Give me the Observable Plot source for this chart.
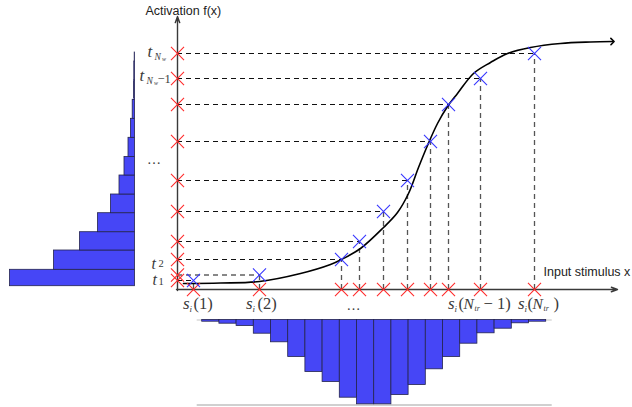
<!DOCTYPE html>
<html>
<head>
<meta charset="utf-8">
<script src="https://cdn.jsdelivr.net/npm/d3@7"></script>
<script src="https://cdn.jsdelivr.net/npm/@observablehq/plot@0.6"></script>
<style>
  html, body { margin: 0; padding: 0; background: #fff; }
  #chart svg { display: block; }
</style>
</head>
<body>
<div id="chart"></div>
<script>
// ---- DATA ----
// stimulus samples s_i(k), k = 1..N_tr (x units: offset from the y axis)
const samples = [16, 82, 164, 182, 206, 230, 253, 271, 303, 357];
// activation thresholds t_k (y units: height above the x axis)
const thresholds = [9, 14.5, 30, 48, 78, 109, 148, 185, 211, 236];
// the activation curve f(x)
const curveX = [6, 43, 82, 123, 153, 164, 183, 206, 220, 231, 241, 250, 260, 270, 280, 296, 313, 330, 353, 383, 413, 435];
const curveY = [6, 6.5, 8, 16, 25, 30, 41, 62, 77, 96, 122, 144, 166, 183, 196, 216, 227, 236, 242, 246, 247.5, 248];
// histogram of activation levels (left), bin edges on the activation axis
const actEdges = [3.3, 19.7, 39, 57.3, 76.3, 95, 114, 132.5, 151.7, 170.7, 189.7, 209, 228, 237];
const actCounts = [125, 81, 55, 37, 24, 15.5, 10.5, 6.5, 4, 2.3, 1, 0.7, 0.3];
// histogram of stimulus values (bottom), bin edges on the stimulus axis
const stimEdges = [24.7, 41.9, 59.1, 76.3, 93.5, 110.7, 127.9, 145.1, 162.3, 179.5, 196.7, 213.9, 231.1, 248.3, 265.5, 282.7, 299.9, 317.1, 334.3, 351.5, 368.7];
const stimCounts = [1.7, 3.7, 6, 13.7, 22.3, 37, 52, 62, 77.7, 84.3, 84.3, 75, 65, 49.3, 37, 23.7, 13.3, 8.7, 3.3, 1.7];
// axis titles
const yTitle = "Activation f(x)";
const xTitle = "Input stimulus x";

// ---- derived tables ----
const pts = samples.map((s, i) => ({s, t: thresholds[i]}));
const curve = curveX.map((x, i) => ({x, y: curveY[i]}));
const actBins = actCounts.map((c, i) => ({lo: actEdges[i], hi: actEdges[i + 1], c}));
const stimBins = stimCounts.map((c, i) => ({lo: stimEdges[i], hi: stimEdges[i + 1], c}));

// layout constants
const leftHistBase = -42.5;   // right edge of left histogram
const bottomHistTop = -30.5;  // top edge of bottom histogram
const xAxisEnd = 440, yAxisEnd = 273;

const red = "#ff2b2b", blue = "#3636ff", barFill = "#4646f6", barStroke = "#24244e";
const mathFill = "#3a3a3a";

function piece(data, x, y, text, dx, dy, size, italic, anchor = "start") {
  return Plot.text(data, {
    x, y, text: () => text, dx, dy,
    fontSize: size, fontStyle: italic ? "italic" : "normal",
    fontFamily: "Liberation Serif, Times New Roman, serif",
    fill: mathFill, textAnchor: anchor, lineAnchor: "bottom"
  });
}
const lvl = k => [pts[k]];

const marks = [
  // left histogram (activation levels)
  Plot.rectX(actBins, {y1: "lo", y2: "hi", x1: d => leftHistBase - d.c, x2: () => leftHistBase,
    fill: barFill, stroke: barStroke, strokeWidth: 0.8}),
  // bottom histogram (stimulus values)
  Plot.ruleY([bottomHistTop], {x1: stimEdges[0] - 5, x2: stimEdges[stimEdges.length - 1] + 6, stroke: "#d8d8d8", strokeWidth: 1.5}),
  Plot.ruleY([bottomHistTop - d3.max(stimCounts) - 0.7], {x1: stimEdges[0] - 5, x2: stimEdges[stimEdges.length - 1] + 6, stroke: "#d0d0d0", strokeWidth: 2}),
  Plot.rectY(stimBins, {x1: "lo", x2: "hi", y1: () => bottomHistTop, y2: d => bottomHistTop - d.c,
    fill: barFill, stroke: barStroke, strokeWidth: 0.8}),
  // dashed projections
  Plot.ruleY(pts, {y: "t", x1: 0, x2: "s", stroke: "#111", strokeWidth: 1, strokeDasharray: "5,4"}),
  Plot.ruleX(pts, {x: "s", y1: 0, y2: "t", stroke: "#555", strokeWidth: 1.3, strokeDasharray: "5,4"}),
  // axes
  Plot.arrow([0], {x1: -1, y1: 0, x2: xAxisEnd, y2: 0, stroke: "#3a3a3a", strokeWidth: 1.4, headLength: 7, headAngle: 40}),
  Plot.arrow([0], {x1: 0, y1: -1, x2: 0, y2: yAxisEnd, stroke: "#3a3a3a", strokeWidth: 1.4, headLength: 7, headAngle: 40}),
  // activation curve
  Plot.line(curve, {x: "x", y: "y", curve: "catmull-rom", stroke: "#000", strokeWidth: 1.6, markerEnd: "arrow"}),
  // crosses
  Plot.dot(pts, {x: () => 0, y: "t", symbol: "times", r: 6, stroke: red, strokeWidth: 1.1}),
  Plot.dot(pts, {x: "s", y: () => 0, symbol: "times", r: 6, stroke: red, strokeWidth: 1.1}),
  Plot.dot(pts, {x: "s", y: "t", symbol: "times", r: 6, stroke: blue, strokeWidth: 1.1}),
  // axis titles
  Plot.text([0], {x: 0, y: yAxisEnd, text: () => yTitle, dx: -32, dy: -6, textAnchor: "start",
    fontFamily: "Liberation Sans, Arial, sans-serif", fontSize: 12.5, fill: "#222"}),
  Plot.text([0], {x: xAxisEnd, y: 0, text: () => xTitle, dx: -74, dy: -18, textAnchor: "start",
    fontFamily: "Liberation Sans, Arial, sans-serif", fontSize: 12.5, fill: "#222"}),

  // y labels: t_{N_w}
  piece(lvl(9), () => 0, "t", "t", -30, 3, 17, true),
  piece(lvl(9), () => 0, "t", "N", -23, 6, 9.5, true),
  piece(lvl(9), () => 0, "t", "w", -15.5, 7, 6, true),
  // t_{N_w - 1}
  piece(lvl(8), () => 0, "t", "t", -38, 2, 17, true),
  piece(lvl(8), () => 0, "t", "N", -31, 5, 9.5, true),
  piece(lvl(8), () => 0, "t", "w", -23.5, 6, 6, true),
  piece(lvl(8), () => 0, "t", "\u22121", -20, 4, 12.5, false),
  // vertical ellipsis region
  piece(lvl(5), () => 0, "t", "\u2026", -23.5, -17, 14, false, "middle"),
  // t_2, t_1
  piece(lvl(1), () => 0, "t", "t", -26, -6.5, 16, true),
  piece(lvl(1), () => 0, "t", "2", -19, -8.5, 10.5, false),
  piece(lvl(0), () => 0, "t", "t", -25, 4.5, 16, true),
  piece(lvl(0), () => 0, "t", "1", -19, 4, 10.5, false),

  // x labels: s_i(1)
  piece(lvl(0), "s", () => 0, "s", -10.5, 19, 17, true),
  piece(lvl(0), "s", () => 0, "i", -4, 22, 9, true),
  piece(lvl(0), "s", () => 0, "(1)", 0, 19, 16.5, false),
  // s_i(2)
  piece(lvl(1), "s", () => 0, "s", -13.5, 19, 17, true),
  piece(lvl(1), "s", () => 0, "i", -7, 22, 9, true),
  piece(lvl(1), "s", () => 0, "(2)", -2, 19, 16.5, false),
  // ...
  piece(lvl(2), "s", () => 0, "\u2026", 12, 20, 14, false, "middle"),
  // s_i(N_tr - 1)
  piece(lvl(8), "s", () => 0, "s", -32.5, 19, 17, true),
  piece(lvl(8), "s", () => 0, "i", -26, 22, 9, true),
  piece(lvl(8), "s", () => 0, "(", -22, 19, 16.5, false),
  piece(lvl(8), "s", () => 0, "N", -17, 19, 15.5, true),
  piece(lvl(8), "s", () => 0, "tr", -6, 21, 8, true),
  piece(lvl(8), "s", () => 0, "\u2212 1)", 3, 19, 16.5, false),
  // s_i(N_tr)
  piece(lvl(9), "s", () => 0, "s", -16.5, 19, 17, true),
  piece(lvl(9), "s", () => 0, "i", -10, 22, 9, true),
  piece(lvl(9), "s", () => 0, "(", -7, 19, 16.5, false),
  piece(lvl(9), "s", () => 0, "N", -2, 19, 15.5, true),
  piece(lvl(9), "s", () => 0, "tr", 9, 21, 8, true),
  piece(lvl(9), "s", () => 0, ")", 19, 19, 16.5, false)
];

const chart = Plot.plot({
  width: 632,
  height: 407,
  margin: 0,
  x: {domain: [-177, 455], axis: null},
  y: {domain: [-118, 289], axis: null},
  style: {background: "#fff", overflow: "visible"},
  marks
});
document.getElementById("chart").appendChild(chart);
</script>
</body>
</html>
